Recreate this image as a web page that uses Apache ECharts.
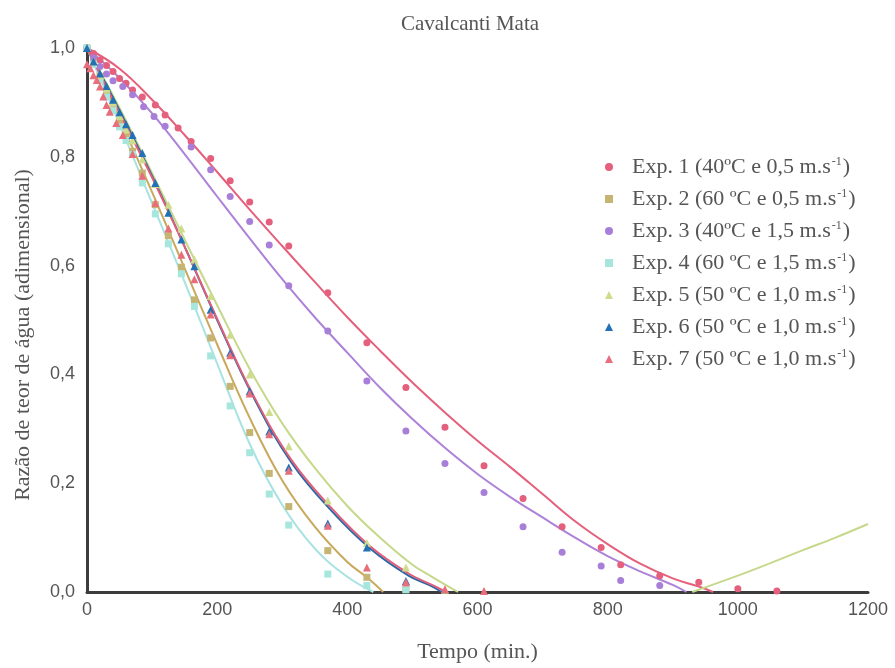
<!DOCTYPE html>
<html>
<head>
<meta charset="utf-8">
<script src="https://cdn.jsdelivr.net/npm/echarts@6/dist/echarts.min.js"></script>
<style>
html,body{margin:0;padding:0;background:#fff;}
#chart{width:895px;height:668px;}
</style>
</head>
<body>
<div id="chart"></div>
<script>
// ---------- data ----------
var legendNames = [
  ['Exp. 1 (40ºC e 0,5 m.s', ')'],
  ['Exp. 2 (60 ºC e 0,5 m.s', ')'],
  ['Exp. 3 (40ºC e 1,5 m.s', ')'],
  ['Exp. 4 (60 ºC e 1,5 m.s', ')'],
  ['Exp. 5 (50 ºC e 1,0 m.s', ')'],
  ['Exp. 6 (50 ºC e 1,0 m.s', ')'],
  ['Exp. 7 (50 ºC e 1,0 m.s', ')']
];
var xTicks = [0, 200, 400, 600, 800, 1000, 1200];
var yTicks = [0, 0.2, 0.4, 0.6, 0.8, 1.0];

// measured points
var t1 = [0,10,20,30,40,50,60,70,85,105,120,140,160,190,220,250,280,310,370,430,490,550,610,670,730,790,820,880,940,1000,1060];
var y1 = [1.0,0.99,0.978,0.968,0.957,0.944,0.935,0.923,0.91,0.895,0.877,0.853,0.828,0.797,0.756,0.717,0.68,0.636,0.55,0.458,0.376,0.303,0.232,0.172,0.12,0.082,0.05,0.03,0.018,0.006,0.002];

var t3 = [0,10,20,30,40,55,70,87,103,120,160,190,220,250,280,310,370,430,490,550,610,670,730,790,820,880];
var y3 = [1.0,0.982,0.966,0.952,0.94,0.929,0.914,0.892,0.874,0.856,0.818,0.776,0.727,0.681,0.638,0.563,0.48,0.388,0.296,0.236,0.183,0.12,0.073,0.048,0.021,0.012];

var tF = [0,10,20,30,40,50,60,70,85,105,125,145,165,190,220,250,280,310,370,430,490,550];
var y2 = [1.0,0.975,0.948,0.92,0.893,0.865,0.84,0.81,0.77,0.712,0.655,0.597,0.537,0.467,0.378,0.293,0.218,0.157,0.076,0.027,0.005];
var y4 = [1.0,0.97,0.94,0.91,0.885,0.855,0.83,0.804,0.752,0.695,0.64,0.585,0.525,0.434,0.342,0.256,0.18,0.123,0.033,0.012,0.004];
var y5 = [1.0,0.975,0.95,0.925,0.9,0.875,0.85,0.83,0.795,0.75,0.712,0.668,0.611,0.544,0.473,0.40,0.331,0.268,0.168,0.09,0.045,0.004];
var y6 = [1.0,0.975,0.953,0.93,0.905,0.882,0.86,0.84,0.807,0.752,0.697,0.648,0.599,0.519,0.44,0.369,0.295,0.229,0.126,0.082,0.02];

var t7 = [0,5,10,15,20,25,30,35,45,55,70,85,105,125,145,165,190,220,250,280,310,370,430,490,550,610];
var y7 = [0.97,0.963,0.95,0.941,0.929,0.911,0.895,0.883,0.862,0.84,0.805,0.765,0.715,0.668,0.62,0.575,0.51,0.435,0.365,0.29,0.223,0.122,0.045,0.018,0.005,0.002];

// fitted curves
var ct1 = [0,50,100,150,200,250,300,350,400,450,500,550,600,650,700,750,800,850,900,940,962];
var cy1 = [1.0,0.962,0.905,0.84,0.772,0.703,0.636,0.57,0.505,0.444,0.385,0.33,0.278,0.23,0.18,0.13,0.088,0.052,0.025,0.01,0.0];
var ct2 = [0,50,100,150,200,250,300,350,400,430,455];
var cy2 = [1.0,0.87,0.735,0.595,0.455,0.32,0.205,0.12,0.055,0.027,0.0];
var ct3 = [0,50,100,150,200,250,300,350,400,450,500,550,600,650,700,750,800,850,900,921];
var cy3 = [1.0,0.945,0.88,0.805,0.727,0.65,0.575,0.505,0.44,0.376,0.318,0.265,0.217,0.175,0.137,0.1,0.066,0.038,0.013,0.0];
var ct4 = [0,50,100,150,200,250,300,350,400,440];
var cy4 = [1.0,0.86,0.715,0.57,0.42,0.272,0.16,0.08,0.028,0.0];
var ct5 = [0,50,100,150,200,250,300,350,400,450,500,530,570,750,930,1000,1050,1100,1150,1200];
var cy5 = [1.0,0.89,0.77,0.648,0.527,0.41,0.31,0.228,0.158,0.1,0.05,0.028,0.0,null,0.0,0.03,0.053,0.077,0.1,0.125];
var ct6 = [0,50,100,150,200,255,314,375,435,494,527,545];
var cy6 = [1.0,0.885,0.765,0.635,0.5,0.36,0.238,0.15,0.08,0.03,0.012,0.0];
var ct7 = [0,50,100,150,200,255,314,375,435,494,530,552];
var cy7 = [1.0,0.88,0.762,0.635,0.502,0.363,0.243,0.155,0.084,0.034,0.013,0.0];

// ---------- styling ----------
var markColors = ['#e4607c', '#c6b472', '#a87fd8', '#a6e6dc', '#cfdc8e', '#2270b5', '#e86e7c'];
var lineColors = ['#e4607c', '#c9a85c', '#ad82d8', '#a8e2e2', '#c6d88a', '#2b66a6', '#e0607a'];
var symbols = ['circle', 'rect', 'circle', 'rect', 'triangle', 'triangle', 'triangle'];
var sizes = [7, 7, 7, 7, 8, 8, 8];

function pairs(xs, ys) {
  var out = [];
  for (var i = 0; i < ys.length; i++) out.push([xs[i], ys[i]]);
  return out;
}

var pointSets = [pairs(t1, y1), pairs(tF, y2), pairs(t3, y3), pairs(tF, y4), pairs(tF, y5), pairs(tF, y6), pairs(t7, y7)];
var curveSets = [pairs(ct1, cy1), pairs(ct2, cy2), pairs(ct3, cy3), pairs(ct4, cy4), pairs(ct5, cy5), pairs(ct6, cy6), pairs(ct7, cy7)];

var names = legendNames.map(function (p) { return p[0] + '-1' + p[1]; });

var series = [];
for (var i = 0; i < 7; i++) {
  series.push({
    name: 'fit' + (i + 1),
    type: 'line',
    data: curveSets[i],
    smooth: 0.4,
    showSymbol: false,
    connectNulls: false,
    lineStyle: { color: lineColors[i], width: 2 },
    itemStyle: { color: lineColors[i] },
    silent: true,
    z: 2
  });
}
for (var j = 0; j < 7; j++) {
  series.push({
    name: names[j],
    type: 'scatter',
    data: pointSets[j],
    symbol: symbols[j],
    symbolSize: sizes[j],
    itemStyle: { color: markColors[j], opacity: 1 },
    z: 3
  });
}

var chart = echarts.init(document.getElementById('chart'), null, { renderer: 'canvas' });
chart.setOption({
  animation: false,
  backgroundColor: '#ffffff',
  title: {
    text: 'Cavalcanti Mata',
    left: 465,
    textAlign: 'center',
    top: 9,
    textStyle: { fontFamily: 'Liberation Serif', fontSize: 21, fontWeight: 'normal', color: '#555' }
  },
  grid: { left: 87, right: 27, top: 48, bottom: 75 },
  legend: {
    orient: 'vertical',
    left: 600,
    top: 151,
    itemGap: 10,
    itemWidth: 8,
    itemHeight: 8,
    data: names.map(function (n, k) { return { name: n, icon: symbols[k] }; }),
    formatter: function (n) {
      var k = names.indexOf(n);
      return '{a|' + legendNames[k][0] + '}{s|-1}{a|' + legendNames[k][1] + '}';
    },
    textStyle: {
      padding: [0, 0, 0, 14],
      rich: {
        a: { fontFamily: 'Liberation Serif', fontSize: 22, color: '#555', lineHeight: 22 },
        s: { fontFamily: 'Liberation Serif', fontSize: 12, color: '#555', lineHeight: 22, verticalAlign: 'top', padding: [0, 1, 8, 1] }
      }
    }
  },
  xAxis: {
    type: 'value',
    min: 0, max: 1200, interval: 200,
    name: 'Tempo (min.)',
    nameLocation: 'middle',
    nameGap: 49,
    nameTextStyle: { fontFamily: 'Liberation Serif', fontSize: 22, color: '#555' },
    axisLine: { show: true, onZero: false, lineStyle: { color: '#3c3c3c', width: 3 } },
    axisTick: { show: false },
    splitLine: { show: false },
    axisLabel: {
      margin: 9,
      fontFamily: 'Liberation Sans', fontSize: 18, color: '#555',
      formatter: function (v) { return xTicks.indexOf(v) >= 0 ? String(v) : ''; }
    }
  },
  yAxis: {
    type: 'value',
    min: 0, max: 1, interval: 0.2,
    name: 'Razão de teor de água (adimensional)',
    nameLocation: 'middle',
    nameGap: 53,
    nameTextStyle: { fontFamily: 'Liberation Serif', fontSize: 22, color: '#555', padding: [0, 30, 0, 0] },
    axisLine: { show: true, lineStyle: { color: '#3c3c3c', width: 3 } },
    axisTick: { show: false },
    splitLine: { show: false },
    axisLabel: {
      margin: 12,
      fontFamily: 'Liberation Sans', fontSize: 18, color: '#555',
      formatter: function (v) {
        var k = -1;
        for (var q = 0; q < yTicks.length; q++) if (Math.abs(yTicks[q] - v) < 1e-9) k = q;
        return k >= 0 ? yTicks[k].toFixed(1).replace('.', ',') : '';
      }
    }
  },
  series: series
});
</script>
</body>
</html>
